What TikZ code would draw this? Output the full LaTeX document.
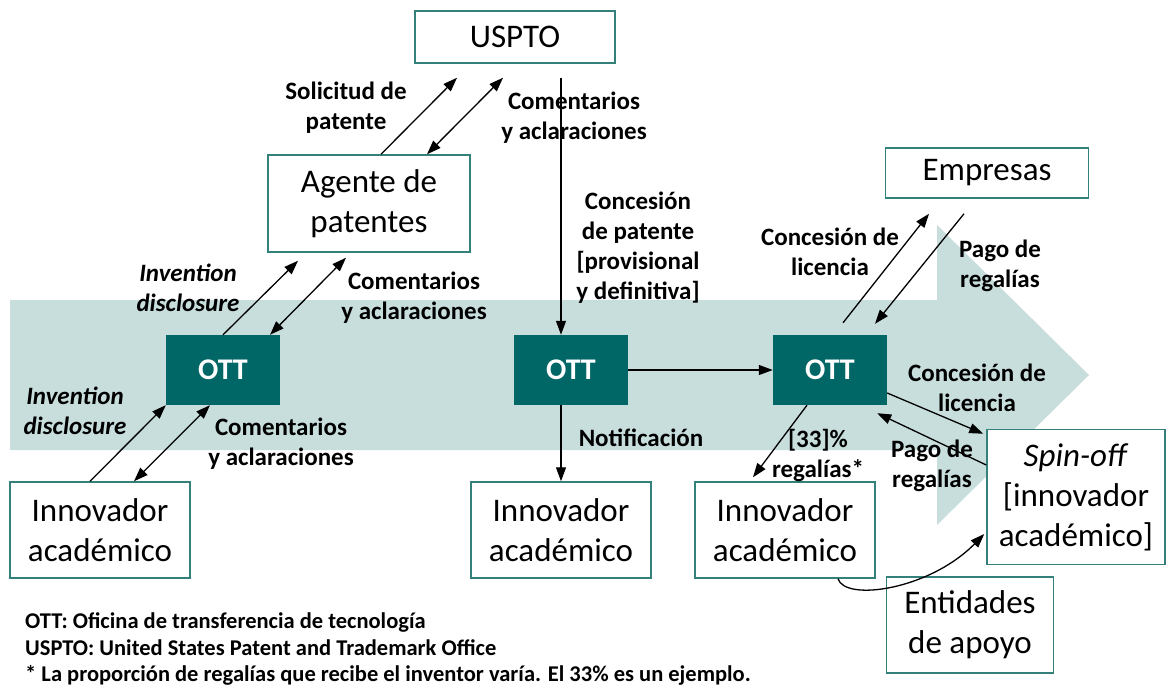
\documentclass[tikz,border=0pt]{standalone}
\usepackage{fontspec}
\setmainfont{Carlito}
\usetikzlibrary{arrows.meta,calc}
\definecolor{band}{RGB}{200,222,221}
\definecolor{ottfill}{RGB}{0,102,102}
\definecolor{boxline}{RGB}{52,128,122}
\begin{document}
\begin{tikzpicture}[x=1pt,y=-1pt,
 wbox/.style={draw=boxline, line width=1.5pt, fill=white, align=center, inner sep=0pt, font=\fontsize{33}{40}\selectfont},
 ottbox/.style={fill=ottfill, text=white, minimum width=114pt, minimum height=70pt, inner sep=0pt, font=\fontsize{30}{36}\selectfont\bfseries},
 lbl/.style={align=center, font=\fontsize{25}{30}\selectfont\bfseries, inner sep=0pt},
 ilbl/.style={align=center, font=\fontsize{25}{30}\selectfont\bfseries\itshape, inner sep=0pt},
 arr/.style={line width=1.3pt, -{Triangle[length=14pt,width=10pt]}},
 darr/.style={line width=1.3pt, {Triangle[length=14pt,width=10pt]}-{Triangle[length=14pt,width=10pt]}},
 note/.style={anchor=west, font=\fontsize{22.5}{26}\selectfont\bfseries, inner sep=0pt}]
\useasboundingbox (0,0) rectangle (1169,685);
% big background arrow
\fill[band] (10,300) -- (937,300) -- (937,225) -- (1089,375) -- (937,525) -- (937,450) -- (10,450) -- cycle;
% boxes
\node[wbox, minimum width=200pt, minimum height=52pt] (uspto) at (515,37) {USPTO};
\node[wbox, minimum width=202pt, minimum height=97pt] (agente) at (369,203.5) {Agente de\\patentes};
\node[wbox, minimum width=203pt, minimum height=50pt] (empresas) at (987,173) {Empresas};
\node[ottbox] (ott1) at (223,370) {OTT};
\node[ottbox] (ott2) at (571,370) {OTT};
\node[ottbox] (ott3) at (830,370) {OTT};
\node[wbox, minimum width=180pt, minimum height=96pt] (inn1) at (100,530) {Innovador\\académico};
\node[wbox, minimum width=180pt, minimum height=96pt] (inn2) at (561,530) {Innovador\\académico};
\node[wbox, minimum width=180pt, minimum height=96pt] (inn3) at (785,530) {Innovador\\académico};
\node[wbox, minimum width=178pt, minimum height=135pt] (spinoff) at (1076,497) {\textit{Spin-off}\\{[}innovador\\académico{]}};
\node[wbox, minimum width=167pt, minimum height=96pt] (entidades) at (970,625) {Entidades\\de apoyo};
% connectors
\draw[arr] ([shift={(12,0)}]agente.north) -- ([shift={(-58,14)}]uspto.south);
\draw[darr] ([shift={(58,0)}]agente.north) -- ([shift={(-12,14)}]uspto.south);
\draw[arr] ([shift={(46,14)}]uspto.south) -- ([shift={(-10,0)}]ott2.north);
\draw[arr] (ott1.north) -- ([shift={(-71,8)}]agente.south);
\draw[darr] ([shift={(47,0)}]ott1.north) -- ([shift={(-23,5)}]agente.south);
\draw[arr] ([shift={(-10,0)}]inn1.north) -- (ott1.south west);
\draw[darr] ([shift={(34,0)}]inn1.north) -- ([shift={(-13,0)}]ott1.south);
\draw[arr] ([shift={(-10,0)}]ott2.south) -- (inn2.north);
\draw[arr] (ott2.east) -- (ott3.west);
\draw[arr] ([shift={(13,-12)}]ott3.north) -- ([shift={(-58,15)}]empresas.south);
\draw[arr] ([shift={(-23,15)}]empresas.south) -- ([shift={(45,-11)}]ott3.north);
\draw[arr] ([shift={(0,23)}]ott3.east) -- ([shift={(-3,5)}]spinoff.north west);
\draw[arr] ([shift={(0,-32)}]spinoff.west) -- ([shift={(-10,8)}]ott3.south east);
\draw[arr] ([shift={(-23,0)}]ott3.south) -- ([shift={(-32,-4)}]inn3.north);
\draw[arr] ([shift={(53,0)}]inn3.south) .. controls +(7,23) and +(-55,56) .. ([shift={(-2,37)}]spinoff.west);
% labels
\node[lbl] (l1) at (346,108) {Solicitud de\\patente};
\node[lbl] (l2) at (574,117.5) {Comentarios\\y aclaraciones};
\node[ilbl] (l3) at (188,287.5) {Invention\\disclosure};
\node[lbl] (l4) at (414,298) {Comentarios\\y aclaraciones};
\node[ilbl] (l5) at (75,411) {Invention\\disclosure};
\node[lbl] (l6) at (281,444) {Comentarios\\y aclaraciones};
\node[lbl] (l7) at (638,247.5) {Concesión\\de patente\\{[}provisional\\y definitiva{]}};
\node[lbl] (l8) at (641,438) {Notificación};
\node[lbl] (l9) at (830,251.5) {Concesión de\\licencia};
\node[lbl] (l10) at (1000,265.5) {Pago de\\regalías};
\node[lbl] (l11) at (977,388) {Concesión de\\licencia};
\node[lbl] (l12) at (932,466) {Pago de\\regalías};
\node[lbl] (l13) at (818,455) {{[}33{]}\%\\regalías*};
% footnotes
\node[note] (n1) at (25,622) {OTT: Oficina de transferencia de tecnología};
\node[note] (n2) at (25,648) {USPTO: United States Patent and Trademark Office};
\node[note] (n3) at (25,675) {* La proporción de regalías que recibe el inventor varía. El 33\% es un ejemplo.};
\end{tikzpicture}
\end{document}
